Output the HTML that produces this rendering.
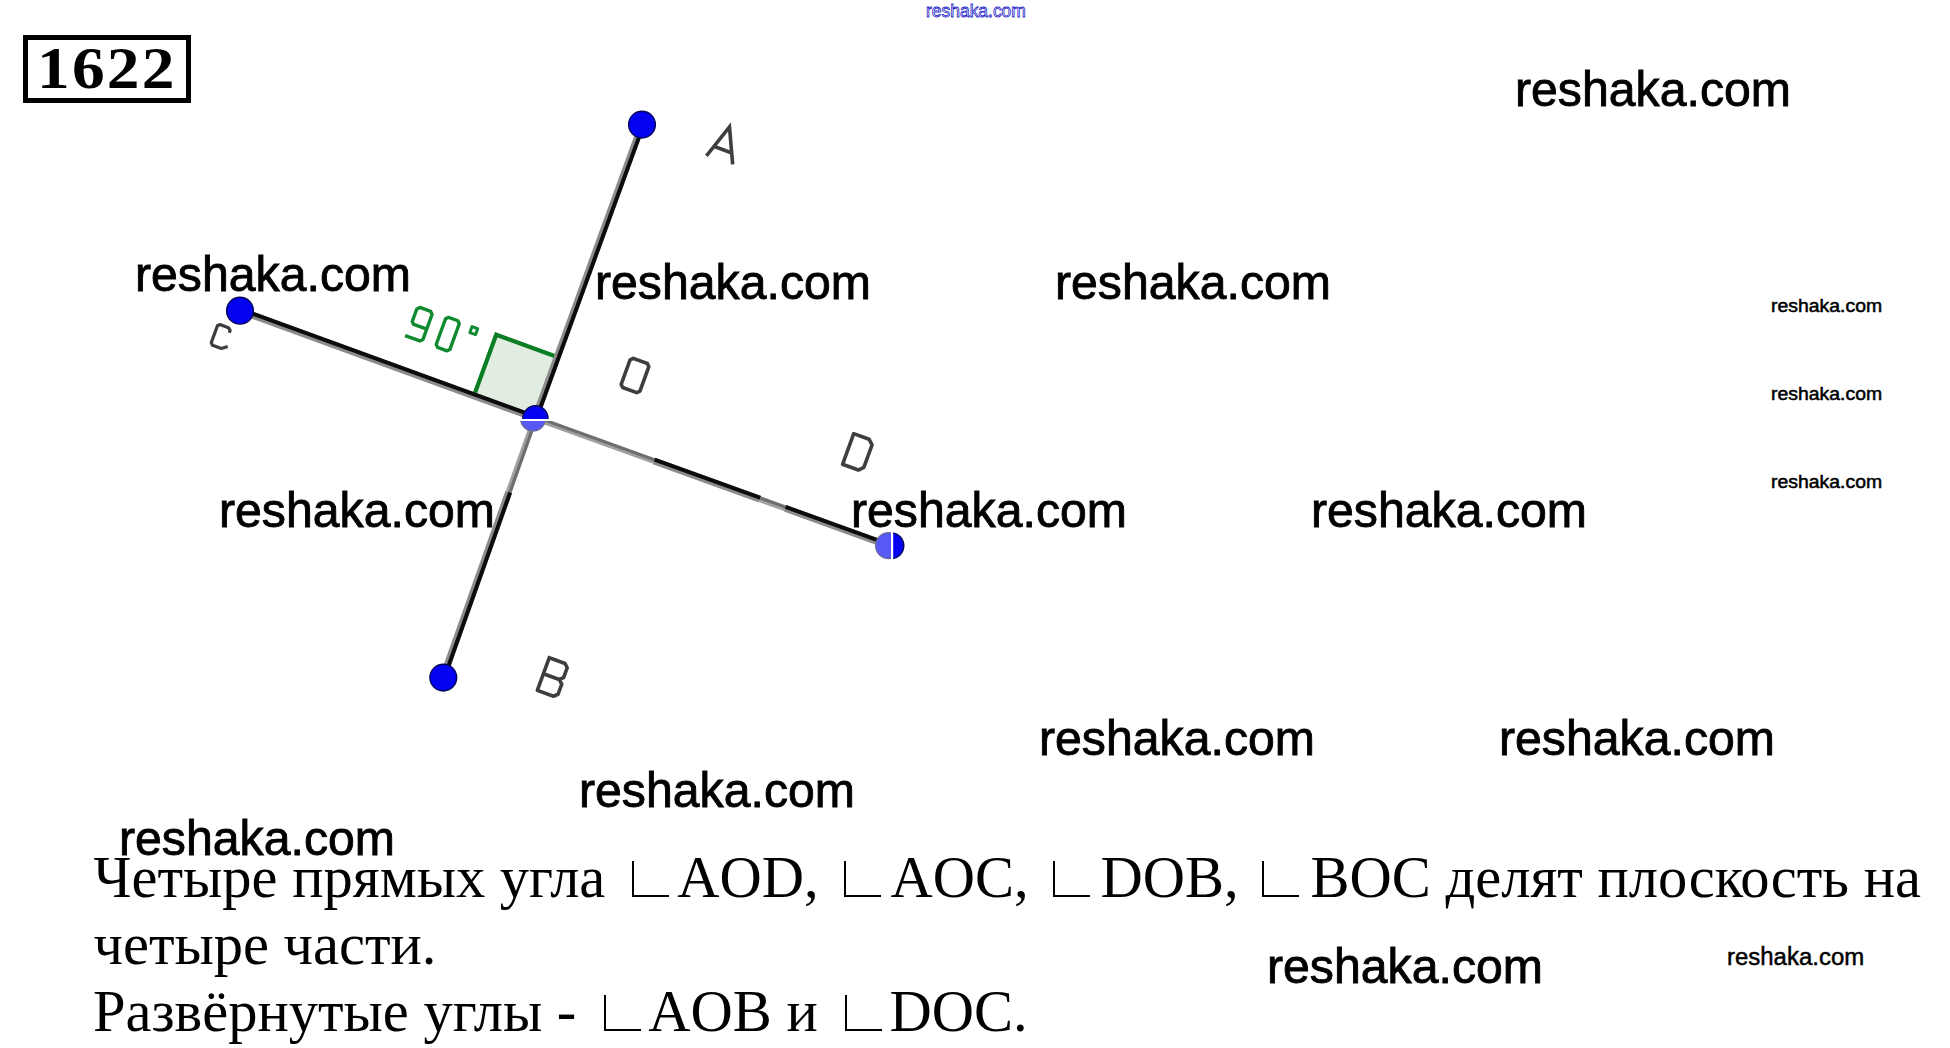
<!DOCTYPE html>
<html><head><meta charset="utf-8">
<style>
html,body{margin:0;padding:0;background:#fff;}
body{width:1950px;height:1048px;position:relative;overflow:hidden;}
.wm{position:absolute;font-family:"Liberation Sans",sans-serif;line-height:1;color:#000;white-space:nowrap;transform-origin:0 0;-webkit-text-stroke:0.9px #000;}
.sm{position:absolute;font-family:"Liberation Sans",sans-serif;line-height:1;color:#000;white-space:nowrap;transform-origin:0 0;-webkit-text-stroke:0.55px #000;}
.topwm{position:absolute;font-family:"Liberation Sans",sans-serif;line-height:1;color:transparent;white-space:nowrap;transform-origin:0 0;-webkit-text-stroke:0.8px #2626c8;}
.tx{position:absolute;font-family:"Liberation Serif",serif;font-size:58.5px;line-height:1;color:#000;white-space:nowrap;}
#box{position:absolute;left:23px;top:35px;width:158px;height:58px;border:5px solid #000;}
#num{position:absolute;left:36.8px;top:37.96px;font-family:"Liberation Serif",serif;font-weight:bold;font-size:60px;line-height:1;letter-spacing:2px;transform-origin:0 0;transform:scaleX(1.09);white-space:nowrap;}
svg{position:absolute;left:0;top:0;}
.up{display:inline-block;transform-origin:50% 84.67%;}
.ang{position:relative;color:transparent;}
.ang i{position:absolute;top:16.3px;width:37.3px;height:36px;border-left:2px solid #000;border-bottom:2px solid #000;box-sizing:border-box;}
</style></head>
<body>
<div id="box"></div>
<div id="num">1622</div>
<div class="topwm" style="left:926.28px;top:2.78px;font-size:17.50px;transform:scale(0.9967,1.0);">reshaka.com</div>
<svg width="1950" height="1048" viewBox="0 0 1950 1048">
<polygon points="535.0,418.0 557.27,356.93 496.19,334.72 473.92,395.78" fill="#e2ede2" stroke="#0b7d22" stroke-width="4.2" stroke-linejoin="miter"/>
<line x1="535.00" y1="418.00" x2="642.00" y2="124.60" stroke="#8c8c8c" stroke-width="7.0" /><line x1="536.41" y1="418.51" x2="643.41" y2="125.11" stroke="#0c0c0c" stroke-width="4.0" />
<line x1="535.00" y1="418.00" x2="240.00" y2="310.70" stroke="#8c8c8c" stroke-width="7.0" /><line x1="535.51" y1="416.59" x2="240.51" y2="309.29" stroke="#0c0c0c" stroke-width="4.0" />
<line x1="535.00" y1="418.00" x2="654.00" y2="460.98" stroke="#a0a0a0" stroke-width="6.0" /><line x1="535.41" y1="416.87" x2="654.41" y2="459.85" stroke="#6e6e6e" stroke-width="3.0" />
<line x1="654.00" y1="460.98" x2="760.00" y2="499.27" stroke="#8c8c8c" stroke-width="7.0" /><line x1="654.51" y1="459.57" x2="760.51" y2="497.86" stroke="#0c0c0c" stroke-width="4.0" />
<line x1="760.00" y1="499.27" x2="785.00" y2="508.30" stroke="#a0a0a0" stroke-width="6.0" /><line x1="760.41" y1="498.14" x2="785.41" y2="507.17" stroke="#6e6e6e" stroke-width="3.0" />
<line x1="785.00" y1="508.30" x2="888.00" y2="545.50" stroke="#8c8c8c" stroke-width="7.0" /><line x1="785.51" y1="506.89" x2="888.51" y2="544.09" stroke="#0c0c0c" stroke-width="4.0" />
<line x1="535.00" y1="418.00" x2="508.71" y2="492.00" stroke="#a0a0a0" stroke-width="6.0" /><line x1="536.13" y1="418.41" x2="509.84" y2="492.41" stroke="#6e6e6e" stroke-width="3.0" />
<line x1="508.71" y1="492.00" x2="443.00" y2="677.00" stroke="#8c8c8c" stroke-width="7.0" /><line x1="510.12" y1="492.51" x2="444.41" y2="677.51" stroke="#0c0c0c" stroke-width="4.0" />
<circle cx="642.0" cy="124.6" r="13.4" fill="#0303f2" stroke="#05055a" stroke-width="1.4"/>
<circle cx="240.0" cy="310.7" r="13.4" fill="#0303f2" stroke="#05055a" stroke-width="1.4"/>
<circle cx="443.3" cy="677.6" r="13.4" fill="#0303f2" stroke="#05055a" stroke-width="1.4"/>
<clipPath id="ot"><rect x="0" y="0" width="1950" height="419"/></clipPath>
<clipPath id="ob"><rect x="0" y="421" width="1950" height="627"/></clipPath>
<clipPath id="dl"><rect x="0" y="0" width="891" height="1048"/></clipPath>
<clipPath id="dr"><rect x="893.2" y="0" width="1060" height="1048"/></clipPath>
<rect x="518" y="419" width="34" height="2" fill="#fff"/>
<circle cx="535.4" cy="418.3" r="12.6" fill="#0303f2" stroke="#05055a" stroke-width="1.4" clip-path="url(#ot)"/>
<circle cx="533.0" cy="418.3" r="12.6" fill="#5858f4" stroke="#6a6a9a" stroke-width="1.2" clip-path="url(#ob)"/>
<rect x="891" y="528" width="2.2" height="35" fill="#fff"/>
<circle cx="888.6" cy="545.7" r="13" fill="#5858f4" stroke="#6a6a9a" stroke-width="1.2" clip-path="url(#dl)"/>
<circle cx="890.8" cy="545.7" r="13" fill="#0303f2" stroke="#05055a" stroke-width="1.4" clip-path="url(#dr)"/>
<path d="M707.5,154.5 L729.5,127 L732.5,162.5 M715.5,147 L730.2,152.4" fill="none" stroke="#3e3e3e" stroke-width="3.6" stroke-linejoin="miter" stroke-linecap="square"/>
<path d="M 633.25,358.37 L 647.35,363.50 L 648.84,366.70 L 639.95,391.14 L 636.75,392.63 L 622.65,387.50 L 621.16,384.30 L 630.05,359.86 Z" fill="none" stroke="#3e3e3e" stroke-width="3.6" stroke-linejoin="round" stroke-linecap="square"/>
<path d="M 853.73,433.63 L 869.04,439.20 L 872.08,444.89 L 863.87,467.44 L 858.36,470.01 L 842.58,464.26 Z" fill="none" stroke="#3e3e3e" stroke-width="3.6" stroke-linejoin="round" stroke-linecap="square"/>
<path d="M 549.24,657.72 L 565.02,663.47 L 567.19,667.76 L 563.59,677.63 L 559.21,679.44 L 543.42,673.70 M 559.21,679.44 L 561.77,684.10 L 558.08,694.25 L 553.40,696.27 L 537.34,690.42 L 549.24,657.72" fill="none" stroke="#3e3e3e" stroke-width="3.6" stroke-linejoin="round" stroke-linecap="square"/>
<path d="M 229.79,331.31 L 230.13,330.37 L 228.46,327.63 L 220.00,324.55 L 217.44,325.75 L 211.28,342.66 L 212.48,345.23 L 221.41,348.48 L 226.19,347.03" fill="none" stroke="#3e3e3e" stroke-width="3.2" stroke-linejoin="round" stroke-linecap="square"/>
<path d="M 426.74,329.08 L 413.68,324.33 L 412.20,321.66 L 416.82,308.98 L 419.83,307.41 L 430.64,311.35 L 432.04,314.52 L 422.98,339.42 L 419.87,340.95 L 406.71,336.16" fill="none" stroke="#0f8a2e" stroke-width="3.4" stroke-linejoin="round" stroke-linecap="square"/>
<path d="M 448.51,317.34 L 457.90,320.76 L 459.28,323.71 L 449.94,349.36 L 446.96,350.83 L 437.56,347.41 L 436.22,344.37 L 445.56,318.72 Z" fill="none" stroke="#0f8a2e" stroke-width="3.4" stroke-linejoin="round" stroke-linecap="square"/>
<path d="M 472.08,326.57 L 477.71,328.62 L 475.52,334.63 L 469.89,332.58 Z" fill="none" stroke="#0f8a2e" stroke-width="3.0" stroke-linejoin="round" stroke-linecap="square"/>
</svg>
<div class="tx" style="left:93.50px;top:848.82px">Четыре прямых угла <span class="ang">&#x221F;<i style="left:12.2px"></i></span>AOD, <span class="ang">&#x221F;<i style="left:10.8px"></i></span>AOC, <span class="ang">&#x221F;<i style="left:9.8px"></i></span>DOB, <span class="ang">&#x221F;<i style="left:8.4px"></i></span>BOC делят плоскость на</div>
<div class="tx" style="left:93.50px;top:915.52px">четыре части.</div>
<div class="tx" style="left:93.00px;top:982.82px">Развёрнутые углы - <span class="ang">&#x221F;<i style="left:12.6px"></i></span>AOB и <span class="ang">&#x221F;<i style="left:12.7px"></i></span>DOC.</div>
<div class="wm" style="left:1515.13px;top:66.42px;font-size:50.42px;transform:scale(0.9563,0.96);">res<span class="up" style="transform:scaleY(1.045)">h</span>a<span class="up" style="transform:scaleY(1.045)">k</span>a.com</div>
<div class="wm" style="left:134.83px;top:251.02px;font-size:50.42px;transform:scale(0.9563,0.96);">res<span class="up" style="transform:scaleY(1.045)">h</span>a<span class="up" style="transform:scaleY(1.045)">k</span>a.com</div>
<div class="wm" style="left:594.83px;top:259.12px;font-size:50.42px;transform:scale(0.9563,0.96);">res<span class="up" style="transform:scaleY(1.045)">h</span>a<span class="up" style="transform:scaleY(1.045)">k</span>a.com</div>
<div class="wm" style="left:1054.83px;top:259.12px;font-size:50.42px;transform:scale(0.9563,0.96);">res<span class="up" style="transform:scaleY(1.045)">h</span>a<span class="up" style="transform:scaleY(1.045)">k</span>a.com</div>
<div class="wm" style="left:218.93px;top:486.72px;font-size:50.42px;transform:scale(0.9563,0.96);">res<span class="up" style="transform:scaleY(1.045)">h</span>a<span class="up" style="transform:scaleY(1.045)">k</span>a.com</div>
<div class="wm" style="left:850.83px;top:486.72px;font-size:50.42px;transform:scale(0.9563,0.96);">res<span class="up" style="transform:scaleY(1.045)">h</span>a<span class="up" style="transform:scaleY(1.045)">k</span>a.com</div>
<div class="wm" style="left:1310.83px;top:486.72px;font-size:50.42px;transform:scale(0.9563,0.96);">res<span class="up" style="transform:scaleY(1.045)">h</span>a<span class="up" style="transform:scaleY(1.045)">k</span>a.com</div>
<div class="wm" style="left:1038.93px;top:714.82px;font-size:50.42px;transform:scale(0.9563,0.96);">res<span class="up" style="transform:scaleY(1.045)">h</span>a<span class="up" style="transform:scaleY(1.045)">k</span>a.com</div>
<div class="wm" style="left:1498.93px;top:714.82px;font-size:50.42px;transform:scale(0.9563,0.96);">res<span class="up" style="transform:scaleY(1.045)">h</span>a<span class="up" style="transform:scaleY(1.045)">k</span>a.com</div>
<div class="wm" style="left:578.93px;top:766.72px;font-size:50.42px;transform:scale(0.9563,0.96);">res<span class="up" style="transform:scaleY(1.045)">h</span>a<span class="up" style="transform:scaleY(1.045)">k</span>a.com</div>
<div class="wm" style="left:118.93px;top:814.82px;font-size:50.42px;transform:scale(0.9563,0.96);">res<span class="up" style="transform:scaleY(1.045)">h</span>a<span class="up" style="transform:scaleY(1.045)">k</span>a.com</div>
<div class="wm" style="left:1267.13px;top:943.22px;font-size:50.42px;transform:scale(0.9563,0.96);">res<span class="up" style="transform:scaleY(1.045)">h</span>a<span class="up" style="transform:scaleY(1.045)">k</span>a.com</div>
<div class="sm" style="left:1771.44px;top:297.30px;font-size:19.31px;transform:scale(1.0054,0.93);">res<span class="up" style="transform:scaleY(1.03)">h</span>a<span class="up" style="transform:scaleY(1.03)">k</span>a.com</div>
<div class="sm" style="left:1771.44px;top:385.20px;font-size:19.31px;transform:scale(1.0054,0.93);">res<span class="up" style="transform:scaleY(1.03)">h</span>a<span class="up" style="transform:scaleY(1.03)">k</span>a.com</div>
<div class="sm" style="left:1771.44px;top:473.20px;font-size:19.31px;transform:scale(1.0054,0.93);">res<span class="up" style="transform:scaleY(1.03)">h</span>a<span class="up" style="transform:scaleY(1.03)">k</span>a.com</div>
<div class="sm" style="left:1727.32px;top:944.70px;font-size:26.67px;transform:scale(0.8989,0.93);">res<span class="up" style="transform:scaleY(1.05)">h</span>a<span class="up" style="transform:scaleY(1.05)">k</span>a.com</div>
</body></html>
